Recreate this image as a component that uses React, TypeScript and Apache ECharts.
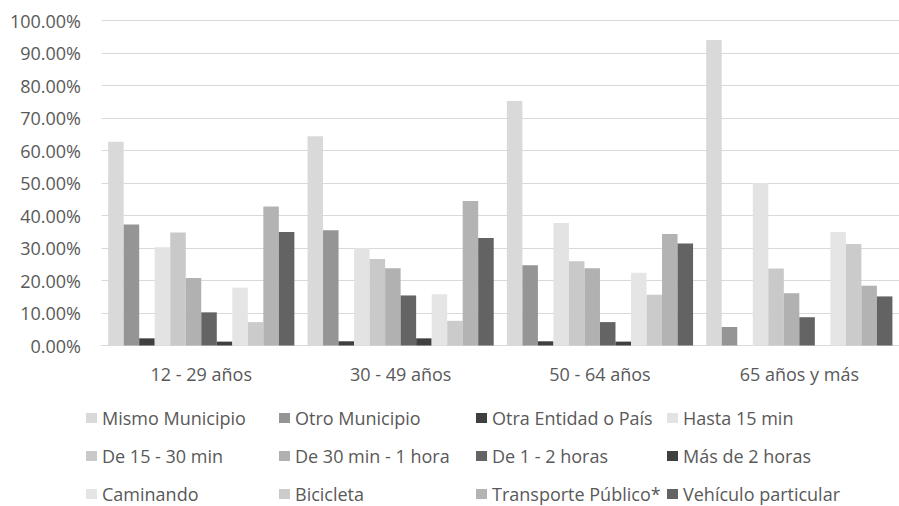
import React, { useEffect, useRef } from "react";
import * as echarts from "echarts";

const categories = ["12 - 29 años", "30 - 49 años", "50 - 64 años", "65 años y más"];

const seriesNames = [
  "Mismo Municipio",
  "Otro Municipio",
  "Otra Entidad o País",
  "Hasta 15 min",
  "De 15 - 30 min",
  "De 30 min - 1 hora",
  "De 1 - 2 horas",
  "Más de 2 horas",
  "Caminando",
  "Bicicleta",
  "Transporte Público*",
  "Vehículo particular",
];

const mismoMunicipio = [62.7, 64.4, 75.2, 94.0];
const otroMunicipio = [37.2, 35.5, 24.7, 5.7];
const otraEntidad = [2.2, 1.3, 1.3, 0];
const hasta15 = [30.2, 30.0, 37.7, 50.0];
const de15a30 = [34.8, 26.6, 25.9, 23.7];
const de30a1h = [20.8, 23.8, 23.8, 16.1];
const de1a2h = [10.2, 15.4, 7.2, 8.7];
const masDe2h = [1.2, 2.2, 1.2, 0];
const caminando = [17.8, 15.8, 22.4, 34.9];
const bicicleta = [7.2, 7.6, 15.6, 31.2];
const transporte = [42.8, 44.5, 34.3, 18.4];
const vehiculo = [34.9, 33.1, 31.4, 15.1];

const seriesValues = [
  mismoMunicipio,
  otroMunicipio,
  otraEntidad,
  hasta15,
  de15a30,
  de30a1h,
  de1a2h,
  masDe2h,
  caminando,
  bicicleta,
  transporte,
  vehiculo,
];

const colors = [
  "#d9d9d9",
  "#959595",
  "#3f3f3f",
  "#e3e3e3",
  "#c9c9c9",
  "#b1b1b1",
  "#646464",
  "#3f3f3f",
  "#e5e5e5",
  "#cbcbcb",
  "#b3b3b3",
  "#636363",
];

const legendCols = [86, 279, 476, 667];
const legendRows = [409, 447, 485];

export default function App() {
  const ref = useRef<HTMLDivElement>(null);

  useEffect(() => {
    document.body.style.margin = "0";
    if (!ref.current) return;
    const chart = echarts.init(ref.current, undefined, { renderer: "svg" });
    const font = "'Open Sans', 'Noto Sans', sans-serif";

    const legends = seriesNames.map((name, i) => ({
      show: true,
      data: [name],
      left: legendCols[i % 4],
      top: legendRows[Math.floor(i / 4)],
      padding: 0,
      itemWidth: 11,
      itemHeight: 10,
      itemGap: 0,
      icon: "rect",
      selectedMode: false,
      textStyle: {
        fontFamily: font,
        fontSize: 18,
        color: "#595959",
        lineHeight: 16,
        padding: [0, 0, 0, 0],
      },
    }));

    chart.setOption({
      animation: false,
      color: colors,
      textStyle: { fontFamily: font },
      grid: {
        left: 101.6,
        top: 20.5,
        width: 809.6,
        height: 325,
        containLabel: false,
      },
      legend: legends,
      xAxis: {
        type: "category",
        data: categories,
        axisLine: { show: true, lineStyle: { color: "#d9d9d9", width: 1 } },
        axisTick: { show: false },
        axisLabel: {
          fontFamily: font,
          fontSize: 18,
          color: "#595959",
          margin: 18,
          lineHeight: 20,
          interval: 0,
        },
      },
      yAxis: {
        type: "value",
        min: 0,
        max: 100,
        interval: 10,
        axisLine: { show: false },
        axisTick: { show: false },
        splitLine: { show: true, lineStyle: { color: "#d9d9d9", width: 1 } },
        axisLabel: {
          fontFamily: font,
          fontSize: 18,
          color: "#595959",
          margin: 20.6,
          formatter: (v: number) => v.toFixed(2) + "%",
        },
      },
      series: seriesNames.map((name, i) => ({
        name,
        type: "bar",
        data: seriesValues[i],
        barGap: "0%",
        barCategoryGap: "6.6%",
        itemStyle: { color: colors[i] },
      })),
    });

    return () => {
      chart.dispose();
    };
  }, []);

  return <div ref={ref} style={{ width: 899, height: 506 }} />;
}
